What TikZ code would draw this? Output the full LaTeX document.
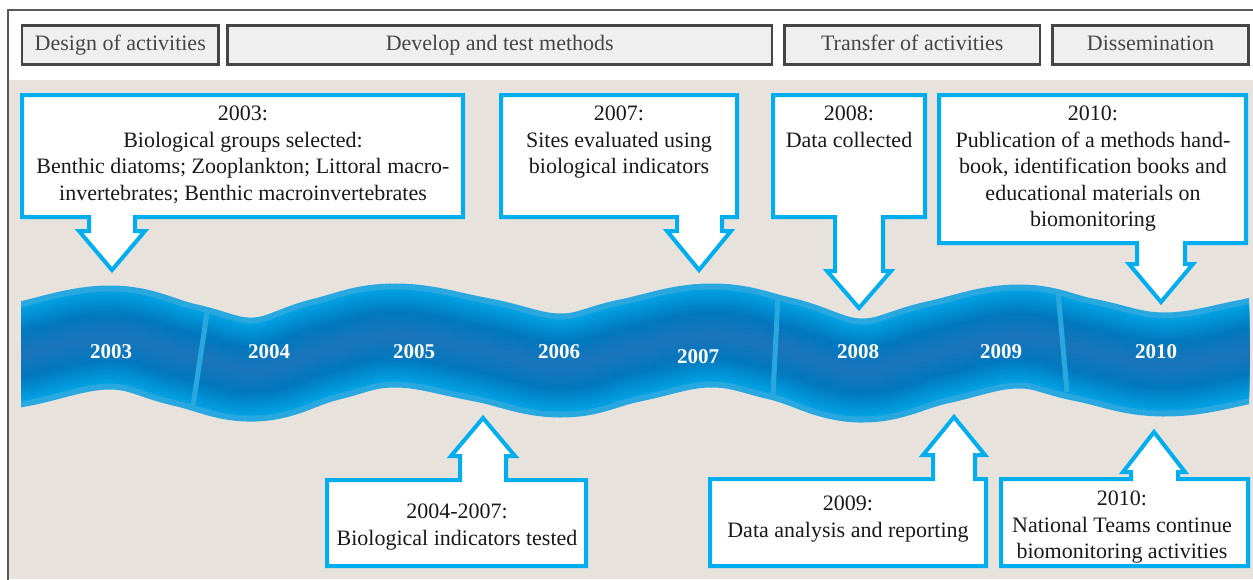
\documentclass[tikz,border=0pt]{standalone}
\usepackage{fontspec}
\setmainfont{Liberation Serif}

\definecolor{cyanline}{HTML}{00AEEF}
\definecolor{sand}{HTML}{E8E2DD}
\definecolor{rim}{HTML}{29A8E0}
\definecolor{ribbright}{HTML}{00A0E2}
\definecolor{ribdark}{HTML}{0278BF}
\definecolor{ribmid}{HTML}{1C74BA}
\definecolor{headgray}{HTML}{454545}
\definecolor{headfill}{HTML}{EFEFEF}

\begin{document}
\begin{tikzpicture}[x=1pt,y=-1pt,
    phase/.style={draw=headgray,fill=headfill,line width=2.5pt,text=headgray,inner sep=0pt,
        font=\fontsize{22}{26}\selectfont,text height=15pt,text depth=4.5pt},
    callout/.style={draw=cyanline,fill=white,line width=4pt,line join=miter},
    note/.style={align=center,anchor=north,inner sep=0pt,text=black!90,
        font=\fontsize{22}{26.5}\selectfont},
    year/.style={text=white,inner sep=0pt,font=\fontsize{21}{21}\selectfont\bfseries}
  ]
    \useasboundingbox (0,0) rectangle (1253,579);
    \fill[white] (0,0) rectangle (1253,579);
    \fill[sand] (9,80) rectangle (1253,579);
    \draw[black!65,line width=2pt] (8.3,600) -- (8.3,10.3) -- (1270,10.3);

    % phases
    \node[phase,minimum width=196.5,minimum height=39] (design) at (120.25,45) {Design of activities};
    \node[phase,minimum width=544.5,minimum height=39] (develop) at (499.75,45) {Develop and test methods};
    \node[phase,minimum width=255.5,minimum height=39] (transfer) at (912.25,45) {Transfer of activities};
    \node[phase,minimum width=196,minimum height=39] (dissem) at (1150.5,45) {Dissemination};

    % ribbon
    \begin{scope}
        \clip (21,250) rectangle (1249,450);
        \foreach \w in {104,92,89,...,2} {
            \pgfmathsetmacro\a{max(0,min(100,(\w-47)/45*100))}
            \pgfmathsetmacro\b{max(0,min(100,\w/47*100))}
            \ifnum\w=104 \def\col{rim}\else \def\col{ribbright!\a!ribdark!\b!ribmid}\fi
            \draw[\col,line width=\w] plot[smooth,tension=0.7] coordinates {
                (-30,364.5) (21,354.5) (110,337.5) (185,355) (255,369.5) (325,349.5)
                (395,335.5) (480,349.5) (560,365.5) (630,350.5) (710,335.5) (782,349)
                (860,370.5) (937,352.5) (1017,336.5) (1085,350) (1163,364.5)
                (1247,351.5) (1300,337.5)};
        }
    \end{scope}
    \draw[rim,line width=5] (207,313) -- (193,406);
    \draw[rim,line width=5] (778,296) -- (773,395);
    \draw[rim,line width=5] (1058,291) -- (1067,392);

    \foreach \yr/\x/\y in {2003/111/352,2004/269/352,2005/414/352,2006/559/352,
                           2007/698/357,2008/858/352,2009/1001/352,2010/1156/352} {
        \node[year] (y\yr) at (\x,\y) {\yr};
    }

    % callouts above
    \draw[callout] (22,95) -- (463,95) -- (463,217) -- (135,217) -- (135,231) -- (145,231)
        -- (112,270) -- (79,231) -- (89,231) -- (89,217) -- (22,217) -- cycle;
    \draw[callout] (501,95) -- (737,95) -- (737,217) -- (722,217) -- (722,231) -- (731,231)
        -- (699,270) -- (667,231) -- (677,231) -- (677,217) -- (501,217) -- cycle;
    \draw[callout] (773,95) -- (925,95) -- (925,217) -- (883,217) -- (883,271) -- (891,271)
        -- (859,308) -- (827,271) -- (835,271) -- (835,217) -- (773,217) -- cycle;
    \draw[callout] (939,95) -- (1246,95) -- (1246,243) -- (1185,243) -- (1185,264) -- (1193,264)
        -- (1161,302) -- (1129,264) -- (1137,264) -- (1137,243) -- (939,243) -- cycle;

    % callouts below
    \draw[callout] (327,566) -- (586,566) -- (586,480) -- (506,480) -- (506,456) -- (515,456)
        -- (483,418) -- (451,456) -- (460,456) -- (460,480) -- (327,480) -- cycle;
    \draw[callout] (710,566) -- (986,566) -- (986,479) -- (975,479) -- (975,455) -- (985,455)
        -- (954,417) -- (923,455) -- (933,455) -- (933,479) -- (710,479) -- cycle;
    \draw[callout] (1001,566) -- (1248,566) -- (1248,479) -- (1178,479) -- (1178,472) -- (1185,472)
        -- (1154,432) -- (1123,472) -- (1131,472) -- (1131,479) -- (1001,479) -- cycle;

    \node[note] (n2003) at (243,106) {2003:\\Biological groups selected:\\Benthic diatoms; Zooplankton; Littoral macro-\\invertebrates; Benthic macroinvertebrates};
    \node[note] (n2007) at (619,106) {2007:\\Sites evaluated using\\biological indicators};
    \node[note] (n2008) at (849,106) {2008:\\Data collected};
    \node[note] (n2010pub) at (1093,106) {2010:\\Publication of a methods hand-\\book, identification books and\\educational materials on\\biomonitoring};
    \node[note] (n2004) at (457,504) {2004-2007:\\Biological indicators tested};
    \node[note] (n2009) at (848,496) {2009:\\Data analysis and reporting};
    \node[note] (n2010nat) at (1122,491) {2010:\\National Teams continue\\biomonitoring activities};
\end{tikzpicture}
\end{document}
